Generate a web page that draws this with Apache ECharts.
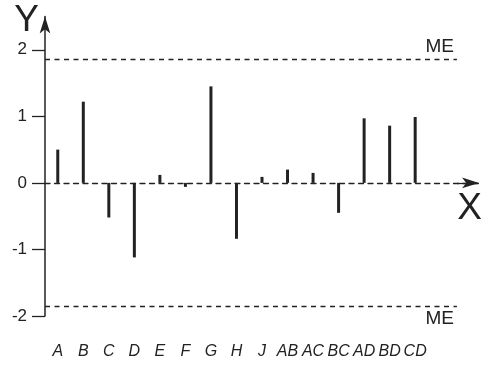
<!DOCTYPE html>
<html><head><meta charset="utf-8">
<script src="https://cdn.jsdelivr.net/npm/echarts@6/dist/echarts.min.js"></script>
<style>html,body{margin:0;padding:0;background:#fff}#c{width:488px;height:365px}</style>
</head><body><div id="c"></div>
<script>
// ---- data ----
const categories = ['A','B','C','D','E','F','G','H','J','AB','AC','BC','AD','BD','CD'];
const effects = [0.50, 1.22, -0.52, -1.12, 0.12, -0.06, 1.45, -0.84, 0.09, 0.20, 0.15, -0.45, 0.97, 0.86, 0.99];
const yTicks = [-2, -1, 0, 1, 2];
const meValue = 1.86;
const meLabel = 'ME';
const xName = 'X';
const yName = 'Y';

// category i sits at slot 2i+1 of a value axis
const pos = categories.map((_, i) => 2 * i + 1);
const xMax = 34, xMeEnd = 32.27;
const ink = '#222';
const font = 'Liberation Sans, Arial, sans-serif';

const chart = echarts.init(document.getElementById('c'), null, {renderer: 'canvas'});
chart.setOption({
  animation: false,
  textStyle: {fontFamily: font},
  grid: {left: 45, right: 9, top: 16.5, bottom: 49},
  xAxis: [
    {
      type: 'value', min: 0, max: xMax, position: 'bottom',
      axisLine: {show: false, onZero: false},
      axisTick: {show: false}, splitLine: {show: false},
      axisLabel: {
        customValues: pos,
        formatter: v => categories[(v - 1) / 2] || '',
        fontStyle: 'italic', fontSize: 16, color: ink, fontFamily: font, margin: 28
      }
    },
    {
      type: 'value', min: 0, max: xMax, position: 'bottom',
      axisLine: {show: true, onZero: true, symbol: ['none', 'arrow'], symbolSize: [8, 17],
        lineStyle: {color: ink, width: 1.3, type: [5, 4.5]}},
      axisTick: {show: false}, axisLabel: {show: false}, splitLine: {show: false},
      name: xName, nameLocation: 'end', nameGap: 3,
      nameTextStyle: {fontSize: 37, color: ink, fontFamily: font, align: 'right', verticalAlign: 'top', padding: [7, 0, 0, 0]}
    }
  ],
  yAxis: {
    type: 'value', min: -2, max: 2.5, interval: 1,
    axisLine: {show: true, onZero: false, symbol: ['none', 'arrow'], symbolSize: [8, 17],
      lineStyle: {color: ink, width: 1.5}},
    axisTick: {show: true, length: 13, customValues: yTicks, lineStyle: {color: ink, width: 1.3}},
    axisLabel: {customValues: yTicks, fontSize: 17, color: ink, fontFamily: font, margin: 18},
    splitLine: {show: false},
    name: yName, nameLocation: 'end', nameGap: -4,
    nameTextStyle: {fontSize: 37, color: ink, fontFamily: font, align: 'right', verticalAlign: 'middle', padding: [0, 6, 0, 0]}
  },
  series: [{
    type: 'bar', xAxisIndex: 0, yAxisIndex: 0,
    barWidth: 3,
    itemStyle: {color: ink},
    data: pos.map((p, i) => [p, effects[i]]),
    markLine: {
      silent: true, symbol: 'none',
      lineStyle: {color: ink, width: 1.3, type: [5, 4.5]},
      label: {show: true, formatter: meLabel, fontSize: 19, color: ink, fontFamily: font, distance: 3},
      data: [
        [{coord: [0, meValue], label: {position: 'insideEndTop'}}, {coord: [xMeEnd, meValue]}],
        [{coord: [0, -meValue], label: {position: 'insideEndBottom'}}, {coord: [xMeEnd, -meValue]}],
        [{coord: [xMeEnd, 0], label: {show: false}, lineStyle: {type: 'solid'}}, {coord: [xMax, 0]}]
      ]
    }
  }]
});
</script>
</body></html>
